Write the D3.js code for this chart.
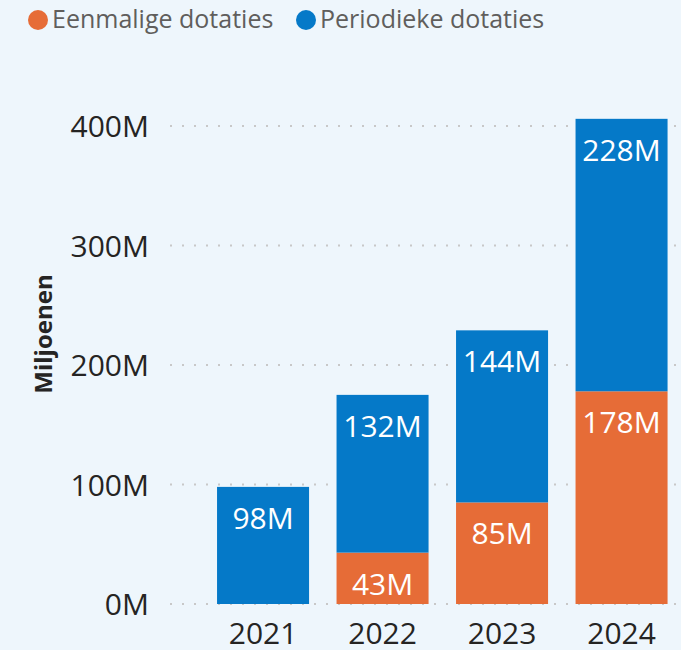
<!DOCTYPE html>
<html>
<head>
<meta charset="utf-8">
<script src="https://cdn.jsdelivr.net/npm/d3@7"></script>
<style>
  body { margin: 0; background: #eef6fc; }
  svg { display: block; font-family: "Segoe UI", "Open Sans", sans-serif; }
</style>
</head>
<body>
<div id="chart"></div>
<script>
const years = ['2021', '2022', '2023', '2024'];
const eenmalige = [0, 43, 85, 178];
const periodieke = [98, 132, 144, 228];
const seriesNames = ['Eenmalige dotaties', 'Periodieke dotaties'];
const seriesColors = ['#e66c37', '#0579c8'];
const yTicks = [0, 100, 200, 300, 400];

const width = 681, height = 650;

const svg = d3.select('#chart').append('svg')
  .attr('width', width)
  .attr('height', height);

const y = d3.scaleLinear().domain([0, 400]).range([604, 126]);
const x = d3.scaleBand().domain(years).range([203.3, 681.3])
  .paddingInner(0.23).paddingOuter(0.115);

// gridlines
svg.append('g')
  .selectAll('line')
  .data(yTicks)
  .join('line')
  .attr('x1', 170).attr('x2', width)
  .attr('y1', d => y(d)).attr('y2', d => y(d))
  .attr('stroke', '#c8c8c8')
  .attr('stroke-width', 2)
  .attr('stroke-dasharray', '2,10');

// y tick labels
svg.append('g')
  .selectAll('text')
  .data(yTicks)
  .join('text')
  .attr('x', 149)
  .attr('y', d => y(d) + 11)
  .attr('text-anchor', 'end')
  .attr('font-size', 30)
  .attr('fill', '#252423')
  .text(d => d + 'M');

// y axis title
svg.append('text')
  .attr('transform', 'translate(52,334) rotate(-90)')
  .attr('text-anchor', 'middle')
  .attr('font-size', 24)
  .attr('font-weight', 'bold')
  .attr('fill', '#252423')
  .text('Miljoenen');

// stacked data
const rows = years.map((yr, i) => ({ year: yr, e: eenmalige[i], p: periodieke[i] }));
const stack = d3.stack().keys(['e', 'p'])(rows);

const layers = svg.append('g')
  .selectAll('g')
  .data(stack)
  .join('g')
  .attr('fill', (d, i) => seriesColors[i]);

layers.selectAll('rect')
  .data(d => d.filter(s => s[1] - s[0] > 0))
  .join('rect')
  .attr('x', d => x(d.data.year))
  .attr('width', x.bandwidth())
  .attr('y', d => y(d[1]))
  .attr('height', d => y(d[0]) - y(d[1]));

// value labels, inside end
layers.selectAll('text')
  .data(d => d.filter(s => s[1] - s[0] > 0))
  .join('text')
  .attr('x', d => x(d.data.year) + x.bandwidth() / 2)
  .attr('y', d => y(d[1]) + 42)
  .attr('text-anchor', 'middle')
  .attr('font-size', 30)
  .attr('fill', '#ffffff')
  .text(d => Math.round(d[1] - d[0]) + 'M');

// x labels
svg.append('g')
  .selectAll('text')
  .data(years)
  .join('text')
  .attr('x', d => x(d) + x.bandwidth() / 2)
  .attr('y', 644)
  .attr('text-anchor', 'middle')
  .attr('font-size', 30)
  .attr('fill', '#252423')
  .text(d => d);

// legend
const legendX = [38, 306];
const legend = svg.append('g')
  .selectAll('g')
  .data(seriesNames)
  .join('g')
  .attr('transform', (d, i) => `translate(${legendX[i]},20)`);

legend.append('circle')
  .attr('r', 10)
  .attr('fill', (d, i) => seriesColors[i]);

legend.append('text')
  .attr('x', 14)
  .attr('y', 8)
  .attr('font-size', 25)
  .attr('fill', '#605e5c')
  .text(d => d);
</script>
</body>
</html>
